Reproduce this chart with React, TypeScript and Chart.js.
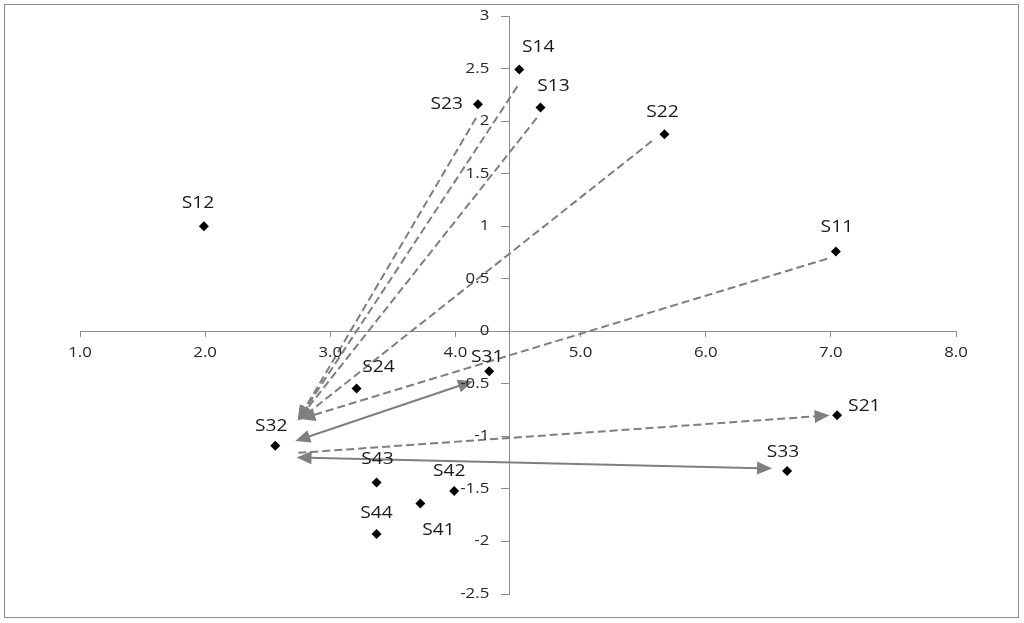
import React, { useEffect, useRef } from "react";
import { Chart, registerables } from "chart.js";

Chart.register(...registerables);

// ---- data ----
const pointNames = ["S11", "S12", "S13", "S14", "S21", "S22", "S23", "S24", "S31", "S32", "S33", "S41", "S42", "S43", "S44"];
const pointX = [7.04, 1.99, 4.68, 4.51, 7.05, 5.67, 4.18, 3.21, 4.27, 2.56, 6.65, 3.72, 3.99, 3.37, 3.37];
const pointY = [0.76, 1.0, 2.13, 2.49, -0.8, 1.875, 2.16, -0.545, -0.38, -1.09, -1.33, -1.64, -1.52, -1.44, -1.93];

const xMin = 1;
const xMax = 8;
const yMin = -2.5;
const yMax = 3;
const xStep = 1;
const yStep = 0.5;
const yAxisCrossesX = 4.43;
const xAxisCrossesY = 0;

// arrows (data coordinates)
const arrowFromX = [4.495, 4.165, 4.65, 5.57, 6.97, 4.14, 2.745, 2.73];
const arrowFromY = [2.33, 2.03, 2.03, 1.81, 0.69, -0.475, -1.157, -1.2];
const arrowToX = [2.74, 2.74, 2.74, 2.75, 2.76, 2.72, 6.99, 6.53];
const arrowToY = [-0.85, -0.85, -0.85, -0.845, -0.835, -1.045, -0.8, -1.305];
const arrowDashed = [true, true, true, true, true, false, true, false];
const arrowHeadAtStart = [false, false, false, false, false, true, false, true];

// ---- label placement (styling, pixels) ----
const labelOffsets: Record<string, [number, number, CanvasTextAlign]> = {
  S11: [1, -24, "center"],
  S12: [-6, -23, "center"],
  S13: [13, -21, "center"],
  S14: [19, -22, "center"],
  S21: [11, -9, "left"],
  S22: [-2, -22, "center"],
  S23: [-15, 0, "right"],
  S24: [22, -21, "center"],
  S31: [-2, -14, "center"],
  S32: [-4, -19, "center"],
  S33: [-4, -19, "center"],
  S41: [18, 27, "center"],
  S42: [-5, -20, "center"],
  S43: [1, -23, "center"],
  S44: [0, -21, "center"],
};

const AXIS_COLOR = "#8c8c8c";
const ARROW_COLOR = "#7f7f7f";
const TEXT_COLOR = "#262626";
const FONT = "'Open Sans', 'DejaVu Sans', sans-serif";
const STRETCH = 1.2;

function stretchedText(ctx: CanvasRenderingContext2D, text: string, x: number, y: number, align: CanvasTextAlign) {
  ctx.save();
  ctx.translate(x, y);
  ctx.scale(STRETCH, 1);
  ctx.textAlign = align;
  ctx.fillText(text, 0, 0);
  ctx.restore();
}

function drawHead(ctx: CanvasRenderingContext2D, tipX: number, tipY: number, fromX: number, fromY: number) {
  const ang = Math.atan2(tipY - fromY, tipX - fromX);
  const len = 15;
  const half = 6.5;
  const bx = tipX - Math.cos(ang) * len;
  const by = tipY - Math.sin(ang) * len;
  ctx.beginPath();
  ctx.moveTo(tipX, tipY);
  ctx.lineTo(bx + Math.sin(ang) * half, by - Math.cos(ang) * half);
  ctx.lineTo(bx - Math.sin(ang) * half, by + Math.cos(ang) * half);
  ctx.closePath();
  ctx.fill();
}

const arrowPlugin = {
  id: "arrows",
  beforeDatasetsDraw(chart: any) {
    const { ctx, scales } = chart;
    const xs = scales.x;
    const ys = scales.y;
    ctx.save();
    ctx.strokeStyle = ARROW_COLOR;
    ctx.fillStyle = ARROW_COLOR;
    ctx.lineWidth = 2;
    for (let i = 0; i < arrowFromX.length; i++) {
      const x1 = xs.getPixelForValue(arrowFromX[i]);
      const y1 = ys.getPixelForValue(arrowFromY[i]);
      const x2 = xs.getPixelForValue(arrowToX[i]);
      const y2 = ys.getPixelForValue(arrowToY[i]);
      const ang = Math.atan2(y2 - y1, x2 - x1);
      const inset = 12;
      const sx = arrowHeadAtStart[i] ? x1 + Math.cos(ang) * inset : x1;
      const sy = arrowHeadAtStart[i] ? y1 + Math.sin(ang) * inset : y1;
      const ex = x2 - Math.cos(ang) * inset;
      const ey = y2 - Math.sin(ang) * inset;
      ctx.setLineDash(arrowDashed[i] ? [8, 4] : []);
      ctx.beginPath();
      ctx.moveTo(sx, sy);
      ctx.lineTo(ex, ey);
      ctx.stroke();
      ctx.setLineDash([]);
      drawHead(ctx, x2, y2, x1, y1);
      if (arrowHeadAtStart[i]) drawHead(ctx, x1, y1, x2, y2);
    }
    ctx.restore();
  },
  afterDatasetsDraw(chart: any) {
    const { ctx, scales } = chart;
    const xs = scales.x;
    const ys = scales.y;
    ctx.save();
    ctx.fillStyle = TEXT_COLOR;
    ctx.textBaseline = "middle";
    // tick labels
    ctx.font = `14px ${FONT}`;
    const axisY = ys.getPixelForValue(xAxisCrossesY);
    const axisX = xs.getPixelForValue(yAxisCrossesX);
    xs.ticks.forEach((t: any) => {
      stretchedText(ctx, Number(t.value).toFixed(1), xs.getPixelForValue(t.value), axisY + 22, "center");
    });
    ys.ticks.forEach((t: any) => {
      stretchedText(ctx, String(Number(t.value)), axisX - 20, ys.getPixelForValue(t.value), "right");
    });
    // point labels
    ctx.fillStyle = "#1a1a1a";
    ctx.font = `16px ${FONT}`;
    for (let i = 0; i < pointNames.length; i++) {
      const name = pointNames[i];
      const [dx, dy, align] = labelOffsets[name] || [0, -20, "center"];
      const px = xs.getPixelForValue(pointX[i]);
      const py = ys.getPixelForValue(pointY[i]);
      stretchedText(ctx, name, px + dx, py + dy, align);
    }
    ctx.restore();
  },
};

const borderPlugin = {
  id: "outerBorder",
  afterDraw(chart: any) {
    const { ctx } = chart;
    ctx.save();
    ctx.strokeStyle = "#8c8c8c";
    ctx.lineWidth = 1;
    ctx.strokeRect(4.5, 4.5, 1014, 613);
    ctx.restore();
  },
};

export default function App() {
  const canvasRef = useRef<HTMLCanvasElement | null>(null);

  useEffect(() => {
    if (!canvasRef.current) return;
    const data = pointX.map((x, i) => ({ x, y: pointY[i] }));
    const chart = new Chart(canvasRef.current, {
      type: "scatter",
      data: {
        datasets: [
          {
            label: "points",
            data,
            pointStyle: "rectRot",
            pointRadius: 5,
            pointBackgroundColor: "#000",
            pointBorderColor: "#000",
            borderWidth: 0,
          },
        ],
      },
      options: {
        responsive: false,
        animation: false,
        layout: { padding: { left: 80, right: 68, top: 16, bottom: 29 } },
        plugins: { legend: { display: false }, tooltip: { enabled: false } },
        scales: {
          x: {
            type: "linear",
            min: xMin,
            max: xMax,
            position: { y: xAxisCrossesY } as any,
            ticks: { stepSize: xStep, autoSkip: false, maxRotation: 0, display: false },
            grid: { drawOnChartArea: false, drawTicks: true, tickLength: 5, color: AXIS_COLOR },
            border: { color: AXIS_COLOR, width: 1 },
          },
          y: {
            type: "linear",
            min: yMin,
            max: yMax,
            position: { x: yAxisCrossesX } as any,
            ticks: { stepSize: yStep, autoSkip: false, display: false },
            grid: { drawOnChartArea: false, drawTicks: true, tickLength: 8, color: AXIS_COLOR },
            border: { color: AXIS_COLOR, width: 1 },
          },
        },
      },
      plugins: [arrowPlugin, borderPlugin],
    });
    return () => chart.destroy();
  }, []);

  return (
    <div style={{ position: "absolute", left: 0, top: 0, width: 1024, height: 623, background: "#fff" }}>
      <canvas ref={canvasRef} width={1024} height={623} />
    </div>
  );
}
